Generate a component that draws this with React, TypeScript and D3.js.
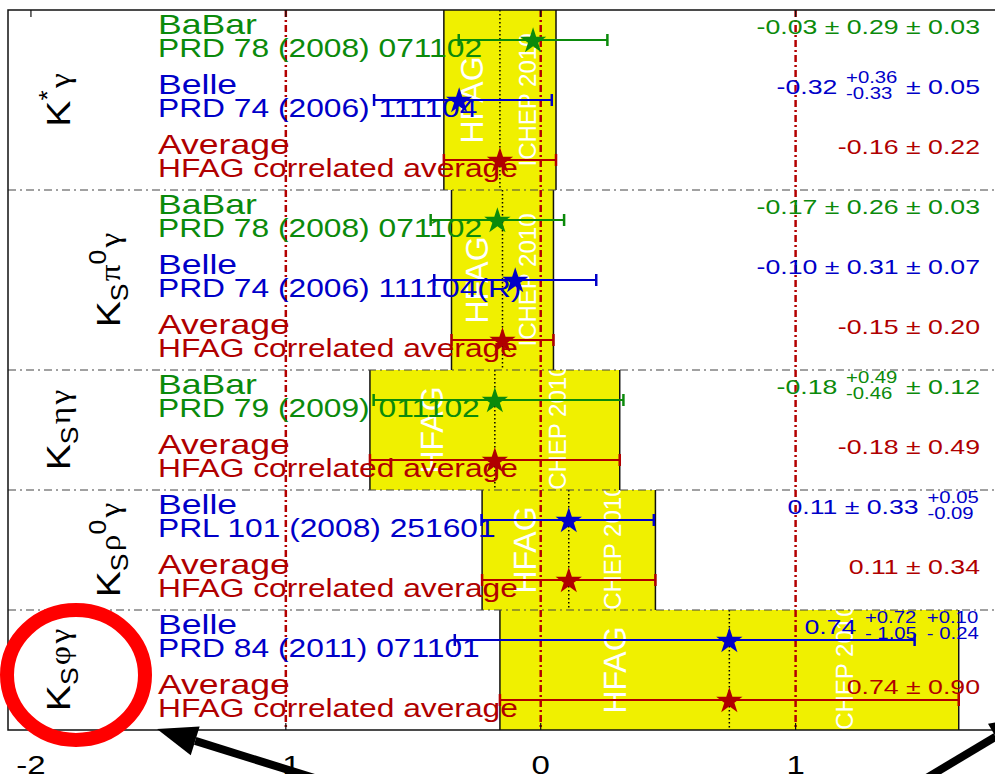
import React, { useEffect, useRef } from 'react';
import * as d3 from 'd3';

// one label per block of rows, ROOT-like markup (^{} super, _{} sub)
const channels = ['K^{*}γ', 'K_{S}π^{0}γ', 'K_{S}ηγ', 'K_{S}ρ^{0}γ', 'K_{S}φγ'];
const channelOf = [0, 0, 0, 1, 1, 1, 2, 2, 3, 3, 4, 4];

const experiments = ['BaBar', 'Belle', 'Average', 'BaBar', 'Belle', 'Average', 'BaBar', 'Average', 'Belle', 'Average', 'Belle', 'Average'];
const references = [
  'PRD 78 (2008) 071102', 'PRD 74 (2006) 111104', 'HFAG correlated average',
  'PRD 78 (2008) 071102', 'PRD 74 (2006) 111104(R)', 'HFAG correlated average',
  'PRD 79 (2009) 011102', 'HFAG correlated average',
  'PRL 101 (2008) 251601', 'HFAG correlated average',
  'PRD 84 (2011) 071101', 'HFAG correlated average',
];

const central = [-0.03, -0.32, -0.16, -0.17, -0.10, -0.15, -0.18, -0.18, 0.11, 0.11, 0.74, 0.74];
const statUp = [0.29, 0.36, 0.22, 0.26, 0.31, 0.20, 0.49, 0.49, 0.33, 0.34, 0.72, 0.90];
const statDown = [0.29, 0.33, 0.22, 0.26, 0.31, 0.20, 0.46, 0.49, 0.33, 0.34, 1.05, 0.90];
const systUp = [0.03, 0.05, 0, 0.03, 0.07, 0, 0.12, 0, 0.05, 0, 0.10, 0];
const systDown = [0.03, 0.05, 0, 0.03, 0.07, 0, 0.12, 0, 0.09, 0, 0.24, 0];

const valueLabels = [
  '-0.03 ± 0.29 ± 0.03', '-0.32 ^{+0.36}_{-0.33} ± 0.05', '-0.16 ± 0.22',
  '-0.17 ± 0.26 ± 0.03', '-0.10 ± 0.31 ± 0.07', '-0.15 ± 0.20',
  '-0.18 ^{+0.49}_{-0.46} ± 0.12', '-0.18 ± 0.49',
  '0.11 ± 0.33 ^{+0.05}_{-0.09}', '0.11 ± 0.34',
  '0.74 ^{+0.72}_{- 1.05} ^{+0.10}_{- 0.24}', '0.74 ± 0.90',
];

const xTicks = [-2, -1, 0, 1];
const refLines = [-1, 0, 1];

const colors = { BaBar: '#0b8a0b', Belle: '#0000c8', Average: '#b00000' };

const parseValue = (s) => {
  const segs = [];
  const re = /\^\{([^}]*)\}_\{([^}]*)\}/g;
  let last = 0, m;
  while ((m = re.exec(s))) {
    if (m.index > last) segs.push({ text: s.slice(last, m.index) });
    segs.push({ up: m[1], down: m[2] });
    last = re.lastIndex;
  }
  if (last < s.length) segs.push({ text: s.slice(last) });
  return segs;
};

const parseLabel = (s) => {
  const toks = [];
  const re = /\^\{([^}]*)\}|_\{([^}]*)\}|(.)/g;
  let m;
  while ((m = re.exec(s))) {
    if (m[1] !== undefined) toks.push({ t: m[1], mode: 'sup' });
    else if (m[2] !== undefined) toks.push({ t: m[2], mode: 'sub' });
    else toks.push({ t: m[3], mode: 'base' });
  }
  return toks;
};

const App = () => {
  const ref = useRef<SVGSVGElement>(null);

  useEffect(() => {
    const svg = d3.select(ref.current);
    svg.selectAll('*').remove();

    const W = 995, left = 8, top = 10, bottom = 730;
    const font = "'Liberation Sans', Arial, Helvetica, sans-serif";
    const greek = "'Liberation Serif', 'DejaVu Serif', serif";
    const stretch = 1.27;

    const x = d3.scaleLinear().domain([-2.09, 1.9]).range([left, 1025]);
    const y = d3.scaleLinear().domain([0, central.length]).range([top, bottom]);
    const yc = (i) => y(i + 0.5);

    const tot = (a, b) => Math.sqrt(a * a + b * b);
    const lo = (i) => central[i] - tot(statDown[i], systDown[i]);
    const hi = (i) => central[i] + tot(statUp[i], systUp[i]);

    const blocks = channels.map((label, c) => {
      const rows = d3.range(channelOf.length).filter((i) => channelOf[i] === c);
      const avg = rows.find((i) => experiments[i] === 'Average');
      return { label, c, first: rows[0], last: rows[rows.length - 1], avg };
    });

    const defs = svg.append('defs');

    // yellow average bands with HFAG watermark
    blocks.forEach((b) => {
      const y0 = y(b.first), y1 = y(b.last + 1);
      const x0 = x(lo(b.avg)), x1 = x(hi(b.avg));
      const id = 'band' + b.c;
      defs.append('clipPath').attr('id', id)
        .append('rect').attr('x', x0).attr('y', y0).attr('width', x1 - x0).attr('height', y1 - y0);
      svg.append('rect').attr('x', x0).attr('y', y0).attr('width', x1 - x0).attr('height', y1 - y0)
        .attr('fill', '#f0f000');
      const g = svg.append('g').attr('clip-path', `url(#${id})`)
        .attr('font-family', font).attr('fill', '#fff')
        .attr('text-anchor', 'middle').attr('dominant-baseline', 'central');
      g.append('text')
        .attr('transform', `translate(${x0 + 0.25 * (x1 - x0)},${(y0 + y1) / 2}) rotate(-90)`)
        .attr('font-size', 32).text('HFAG');
      g.append('text')
        .attr('transform', `translate(${x0 + 0.75 * (x1 - x0)},${(y0 + y1) / 2}) rotate(-90)`)
        .attr('font-size', 24).text('ICHEP 2010');
      [x0, x1].forEach((xe) => {
        svg.append('line').attr('x1', xe).attr('x2', xe).attr('y1', y0).attr('y2', y1)
          .attr('stroke', '#111').attr('stroke-width', 1.5);
      });
      svg.append('line').attr('x1', x(central[b.avg])).attr('x2', x(central[b.avg]))
        .attr('y1', y0).attr('y2', y1)
        .attr('stroke', '#000').attr('stroke-width', 1.5).attr('stroke-dasharray', '1.5,2.5');
    });

    // block separators
    blocks.slice(1).forEach((b) => {
      svg.append('line').attr('x1', left).attr('x2', W).attr('y1', y(b.first)).attr('y2', y(b.first))
        .attr('stroke', '#444').attr('stroke-width', 1.2).attr('stroke-dasharray', '8,4,2,4');
    });

    // reference lines
    refLines.forEach((v) => {
      svg.append('line').attr('x1', x(v)).attr('x2', x(v)).attr('y1', top).attr('y2', bottom)
        .attr('stroke', '#b40000').attr('stroke-width', 2.5).attr('stroke-dasharray', '7,3,2,3');
    });

    // frame, ticks, tick labels
    svg.append('path').attr('d', `M1030,${top}H${left}V${bottom}H1030`)
      .attr('fill', 'none').attr('stroke', '#111').attr('stroke-width', 1.5);
    xTicks.forEach((v) => {
      svg.append('line').attr('x1', x(v)).attr('x2', x(v)).attr('y1', top).attr('y2', top + 7)
        .attr('stroke', '#111').attr('stroke-width', 1.2);
      svg.append('line').attr('x1', x(v)).attr('x2', x(v)).attr('y1', bottom).attr('y2', bottom - 7)
        .attr('stroke', '#111').attr('stroke-width', 1.2);
      svg.append('text').attr('transform', `translate(${x(v)},774) scale(${stretch},1)`)
        .attr('text-anchor', 'middle').attr('font-family', font).attr('font-size', 26)
        .attr('fill', '#000').text(String(v));
    });

    // channel labels, rotated
    blocks.forEach((b) => {
      const toks = parseLabel(b.label);
      const raised = toks.some((t) => t.mode === 'sup' && t.t !== '*');
      const bx = raised ? 120 : 70;
      const yMid = (y(b.first) + y(b.last + 1)) / 2;
      const t = svg.append('text')
        .attr('transform', `translate(${bx},${yMid}) rotate(-90) scale(1.15,1)`)
        .attr('text-anchor', 'middle').attr('font-family', font).attr('fill', '#000');
      let shift = 0;
      toks.forEach((tk) => {
        const target = tk.mode === 'sup' ? -14 : tk.mode === 'sub' ? 8 : 0;
        const isGreek = /[α-ω]/.test(tk.t);
        const size = tk.mode === 'base' ? (isGreek ? 29 : 34) : 23;
        t.append('tspan').attr('dy', target - shift).attr('font-size', size)
          .attr('dx', isGreek ? 2 : 0)
          .attr('font-family', isGreek ? greek : font).text(tk.t);
        shift = target;
      });
    });

    // experiment names and references
    experiments.forEach((e, i) => {
      const g = svg.append('g').attr('font-family', font).attr('fill', colors[e]);
      g.append('text').attr('transform', `translate(158,${yc(i) - 6}) scale(${stretch},1)`)
        .attr('font-size', 28).text(e);
      g.append('text').attr('transform', `translate(158,${yc(i) + 17}) scale(${stretch},1)`)
        .attr('font-size', 25).text(references[i]);
    });

    // error bars and stars
    const star = d3.symbol().type(d3.symbolStar).size(215);
    experiments.forEach((e, i) => {
      const c = colors[e];
      const yy = yc(i);
      svg.append('line').attr('x1', x(lo(i))).attr('x2', x(hi(i))).attr('y1', yy).attr('y2', yy)
        .attr('stroke', c).attr('stroke-width', 2);
      [lo(i), hi(i)].forEach((v) => {
        svg.append('line').attr('x1', x(v)).attr('x2', x(v)).attr('y1', yy - 6).attr('y2', yy + 6)
          .attr('stroke', c).attr('stroke-width', 2.5);
      });
      svg.append('path').attr('d', star()).attr('transform', `translate(${x(central[i])},${yy + 1})`)
        .attr('fill', c);
    });

    // value labels, right aligned
    valueLabels.forEach((s, i) => {
      const g = svg.append('g')
        .attr('transform', `translate(980,${yc(i) - 6}) scale(${stretch},1)`)
        .attr('font-family', font).attr('fill', colors[experiments[i]]);
      let cursor = 0;
      parseValue(s).reverse().forEach((seg) => {
        if (seg.text !== undefined) {
          const t = g.append('text').attr('font-size', 21).style('white-space', 'pre').text(seg.text);
          cursor -= (t.node() as SVGTextElement).getComputedTextLength();
          t.attr('x', cursor);
        } else {
          const a = g.append('text').attr('font-size', 16).attr('y', -11).style('white-space', 'pre').text(seg.up);
          const b = g.append('text').attr('font-size', 16).attr('y', 5).style('white-space', 'pre').text(seg.down);
          const w = Math.max((a.node() as SVGTextElement).getComputedTextLength(),
            (b.node() as SVGTextElement).getComputedTextLength()) + 2;
          cursor -= w;
          a.attr('x', cursor + 1);
          b.attr('x', cursor + 1);
        }
      });
    });

    // annotations: red ring and black arrows
    svg.append('ellipse').attr('cx', 76).attr('cy', 675).attr('rx', 69).attr('ry', 65)
      .attr('fill', 'none').attr('stroke', '#ff0000').attr('stroke-width', 14);

    const arrow = (x1, y1, x2, y2) => {
      const ang = Math.atan2(y2 - y1, x2 - x1);
      const L = 40, hw = 15;
      const bx = x2 - L * Math.cos(ang), by = y2 - L * Math.sin(ang);
      svg.append('line').attr('x1', x1).attr('y1', y1).attr('x2', bx).attr('y2', by)
        .attr('stroke', '#000').attr('stroke-width', 8);
      svg.append('polygon')
        .attr('points', [[x2, y2], [bx + hw * Math.sin(ang), by - hw * Math.cos(ang)], [bx - hw * Math.sin(ang), by + hw * Math.cos(ang)]]
          .map((p) => p.join(',')).join(' '))
        .attr('fill', '#000');
    };
    arrow(340, 786, 157, 729);
    arrow(890, 800, 1030, 716);
  }, []);

  return (
    <svg ref={ref} width={995} height={774}
      style={{ position: 'absolute', left: 0, top: 0, background: '#fff', overflow: 'hidden' }} />
  );
};

export default App;
